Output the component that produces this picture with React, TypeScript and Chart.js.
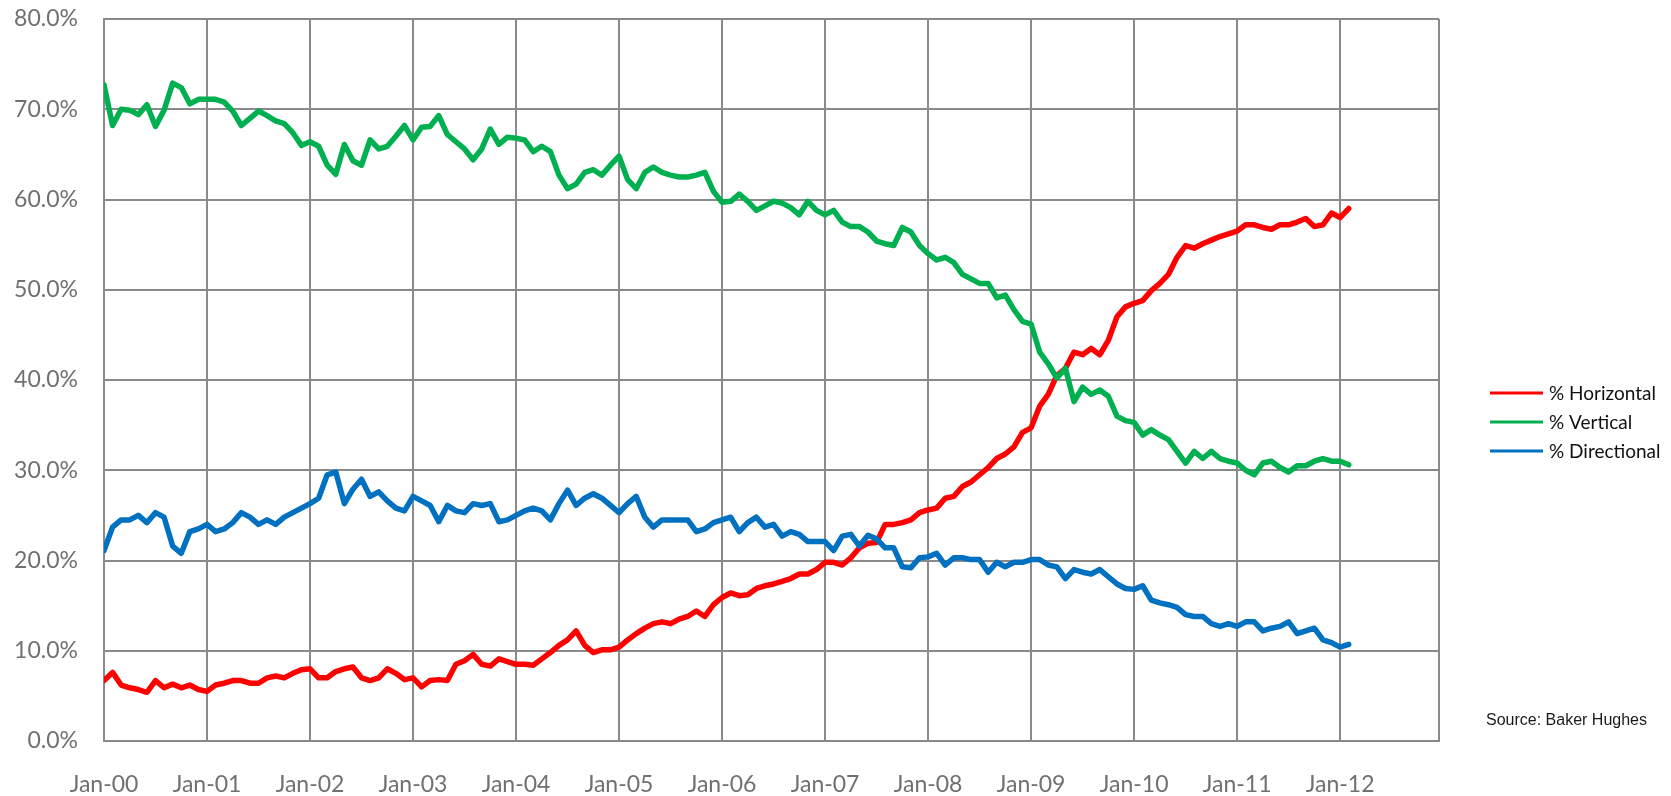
import React, { useEffect, useRef } from "react";
import { Chart, registerables } from "chart.js";

Chart.register(...registerables);

// Monthly readings, Jan 2000 .. Feb 2012 (percent of US rig count)
const FIRST_YEAR = 2000;
const X_MAX_YEARS = 12.96;

const horizontal: number[] = [
  6.7, 7.6, 6.2, 5.9, 5.7, 5.4, 6.7, 5.9, 6.3, 5.9, 6.2, 5.7,
  5.5, 6.2, 6.4, 6.7, 6.7, 6.4, 6.4, 7.0, 7.2, 7.0, 7.5, 7.9,
  8.0, 7.0, 7.0, 7.7, 8.0, 8.2, 7.0, 6.7, 7.0, 8.0, 7.5, 6.8,
  7.0, 6.0, 6.7, 6.8, 6.7, 8.5, 8.9, 9.6, 8.5, 8.3, 9.1, 8.8,
  8.5, 8.5, 8.4, 9.1, 9.8, 10.6, 11.2, 12.2, 10.6, 9.8, 10.1, 10.1,
  10.4, 11.2, 11.9, 12.5, 13.0, 13.2, 13.0, 13.5, 13.8, 14.4, 13.8, 15.1,
  15.9, 16.4, 16.1, 16.2, 16.9, 17.2, 17.4, 17.7, 18.0, 18.5, 18.5, 19.0,
  19.8, 19.8, 19.5, 20.3, 21.4, 21.9, 22.0, 24.0, 24.0, 24.2, 24.5, 25.3,
  25.6, 25.8, 26.9, 27.1, 28.2, 28.7, 29.5, 30.3, 31.3, 31.8, 32.6, 34.2,
  34.7, 37.1, 38.4, 40.5, 41.3, 43.1, 42.8, 43.5, 42.8, 44.4, 47.0, 48.1,
  48.5, 48.8, 49.9, 50.7, 51.7, 53.6, 54.9, 54.6, 55.1, 55.5, 55.9, 56.2,
  56.5, 57.2, 57.2, 56.9, 56.7, 57.2, 57.2, 57.5, 57.9, 57.0, 57.2, 58.5,
  58.0, 59.0,
];

const vertical: number[] = [
  72.7, 68.2, 70.0, 69.9, 69.4, 70.5, 68.1, 69.9, 72.9, 72.4, 70.6, 71.1,
  71.1, 71.1, 70.8, 69.8, 68.2, 69.0, 69.8, 69.3, 68.7, 68.4, 67.4, 66.0,
  66.4, 65.9, 63.8, 62.8, 66.1, 64.3, 63.8, 66.6, 65.6, 65.9, 67.0, 68.2,
  66.6, 68.0, 68.1, 69.3, 67.2, 66.4, 65.6, 64.4, 65.6, 67.8, 66.1, 66.9,
  66.8, 66.6, 65.3, 65.9, 65.3, 62.7, 61.2, 61.7, 63.0, 63.3, 62.7, 63.8,
  64.8, 62.2, 61.2, 63.0, 63.6, 63.0, 62.7, 62.5, 62.5, 62.7, 63.0, 60.9,
  59.7, 59.8, 60.6, 59.8, 58.8, 59.3, 59.8, 59.6, 59.1, 58.3, 59.8, 58.8,
  58.3, 58.8, 57.5, 57.0, 57.0, 56.4, 55.4, 55.1, 54.9, 56.9, 56.4, 54.9,
  54.0, 53.3, 53.6, 53.0, 51.7, 51.2, 50.7, 50.7, 49.1, 49.4, 47.8, 46.5,
  46.2, 43.1, 41.8, 40.2, 41.3, 37.6, 39.2, 38.4, 38.9, 38.2, 36.0, 35.5,
  35.3, 33.9, 34.5, 33.9, 33.4, 32.1, 30.8, 32.1, 31.3, 32.1, 31.3, 31.0,
  30.8, 30.0, 29.5, 30.8, 31.0, 30.3, 29.8, 30.5, 30.5, 31.0, 31.3, 31.0,
  31.0, 30.6,
];

const directional: number[] = [
  21.1, 23.7, 24.5, 24.5, 25.0, 24.2, 25.3, 24.8, 21.6, 20.8, 23.2, 23.5,
  24.0, 23.2, 23.5, 24.2, 25.3, 24.8, 24.0, 24.5, 24.0, 24.8, 25.3, 25.8,
  26.3, 26.9, 29.5, 29.8, 26.3, 27.9, 29.0, 27.1, 27.6, 26.6, 25.8, 25.5,
  27.1, 26.6, 26.1, 24.3, 26.1, 25.5, 25.3, 26.3, 26.1, 26.3, 24.3, 24.5,
  25.0, 25.5, 25.8, 25.5, 24.5, 26.3, 27.8, 26.1, 26.9, 27.4, 26.9, 26.1,
  25.3, 26.3, 27.1, 24.8, 23.7, 24.5, 24.5, 24.5, 24.5, 23.2, 23.5, 24.2,
  24.5, 24.8, 23.2, 24.2, 24.8, 23.7, 24.0, 22.7, 23.2, 22.9, 22.1, 22.1,
  22.1, 21.1, 22.7, 22.9, 21.6, 22.8, 22.4, 21.4, 21.4, 19.3, 19.2, 20.3,
  20.4, 20.8, 19.5, 20.3, 20.3, 20.1, 20.1, 18.7, 19.8, 19.3, 19.8, 19.8,
  20.1, 20.1, 19.5, 19.3, 18.0, 19.0, 18.7, 18.5, 19.0, 18.2, 17.4, 16.9,
  16.8, 17.2, 15.6, 15.3, 15.1, 14.8, 14.0, 13.8, 13.8, 13.0, 12.7, 13.0,
  12.7, 13.2, 13.2, 12.2, 12.5, 12.7, 13.2, 11.9, 12.2, 12.5, 11.2, 10.9,
  10.4, 10.7,
];

const seriesLabels = ["% Horizontal", "% Vertical", "% Directional"];
const seriesColors = ["#FF0000", "#00B050", "#0070C0"];
const yTickValues = [0, 10, 20, 30, 40, 50, 60, 70, 80];
const xTickYears = [0, 1, 2, 3, 4, 5, 6, 7, 8, 9, 10, 11, 12];
const sourceText = "Source: Baker Hughes";

const GRID = "#8a8a8a";
const TICK_FONT = { family: "Lato", size: 23 };
const TICK_COLOR = "#707070";

const toPoints = (arr: number[]) => arr.map((v, i) => ({ x: i / 12, y: v }));

const decorPlugin = {
  id: "decor",
  beforeDatasetsDraw(chart: any) {
    const { ctx, chartArea } = chart;
    ctx.save();
    ctx.strokeStyle = GRID;
    ctx.lineWidth = 2;
    ctx.beginPath();
    ctx.moveTo(chartArea.right, chartArea.top);
    ctx.lineTo(chartArea.right, chartArea.bottom);
    ctx.stroke();
    ctx.restore();
  },
  afterDraw(chart: any) {
    const { ctx } = chart;
    ctx.save();
    chart.data.datasets.forEach((ds: any, i: number) => {
      const y = 393 + i * 29;
      ctx.strokeStyle = ds.borderColor;
      ctx.lineWidth = 3;
      ctx.beginPath();
      ctx.moveTo(1490, y);
      ctx.lineTo(1543, y);
      ctx.stroke();
      ctx.fillStyle = "#111";
      ctx.font = "19px Lato";
      ctx.textBaseline = "middle";
      ctx.textAlign = "left";
      ctx.fillText(ds.label, 1549, y + 1);
    });
    ctx.fillStyle = "#1a1a1a";
    ctx.font = "16px 'Liberation Sans'";
    ctx.textBaseline = "middle";
    ctx.fillText(sourceText, 1486, 721);
    ctx.restore();
  },
};

export default function App() {
  const ref = useRef<HTMLCanvasElement>(null);
  useEffect(() => {
    if (!ref.current) return;
    const all = [horizontal, vertical, directional];
    const chart = new Chart(ref.current, {
      type: "line",
      data: {
        datasets: all.map((arr, i) => ({
          label: seriesLabels[i],
          data: toPoints(arr),
          borderColor: seriesColors[i],
          backgroundColor: seriesColors[i],
          borderWidth: 5.5,
          pointRadius: 0,
          tension: 0,
          borderJoinStyle: "round",
          borderCapStyle: "round",
          order: 3 - i,
        })),
      },
      options: {
        animation: false,
        responsive: false,
        maintainAspectRatio: false,
        layout: { padding: { left: 0, right: 232, top: 19, bottom: 0 } },
        plugins: { legend: { display: false }, tooltip: { enabled: false } },
        scales: {
          x: {
            type: "linear",
            min: 0,
            max: X_MAX_YEARS,
            afterBuildTicks: (s: any) => {
              s.ticks = xTickYears.map((v) => ({ value: v }));
            },
            afterFit: (s: any) => {
              s.height = 55;
              s.paddingLeft = 0;
              s.paddingRight = 0;
            },
            grid: { color: GRID, lineWidth: 2, drawTicks: false },
            border: { color: GRID, width: 2 },
            ticks: {
              font: TICK_FONT,
              color: TICK_COLOR,
              padding: 30,
              maxRotation: 0,
              autoSkip: false,
              callback: (v: any) => "Jan-" + String(FIRST_YEAR + Number(v)).slice(2),
            },
          },
          y: {
            min: 0,
            max: 80,
            afterBuildTicks: (s: any) => {
              s.ticks = yTickValues.map((v) => ({ value: v }));
            },
            afterFit: (s: any) => {
              s.width = 104;
              s.paddingTop = 0;
              s.paddingBottom = 0;
            },
            grid: { color: GRID, lineWidth: 2, drawTicks: false },
            border: { color: GRID, width: 2 },
            ticks: {
              font: TICK_FONT,
              color: TICK_COLOR,
              padding: 26,
              callback: (v: any) => Number(v).toFixed(1) + "%",
            },
          },
        },
      },
      plugins: [decorPlugin],
    } as any);
    return () => chart.destroy();
  }, []);
  return (
    <div style={{ position: "absolute", left: 0, top: 0, width: 1671, height: 796, background: "#fff" }}>
      <canvas ref={ref} width={1671} height={796} style={{ display: "block" }} />
    </div>
  );
}
